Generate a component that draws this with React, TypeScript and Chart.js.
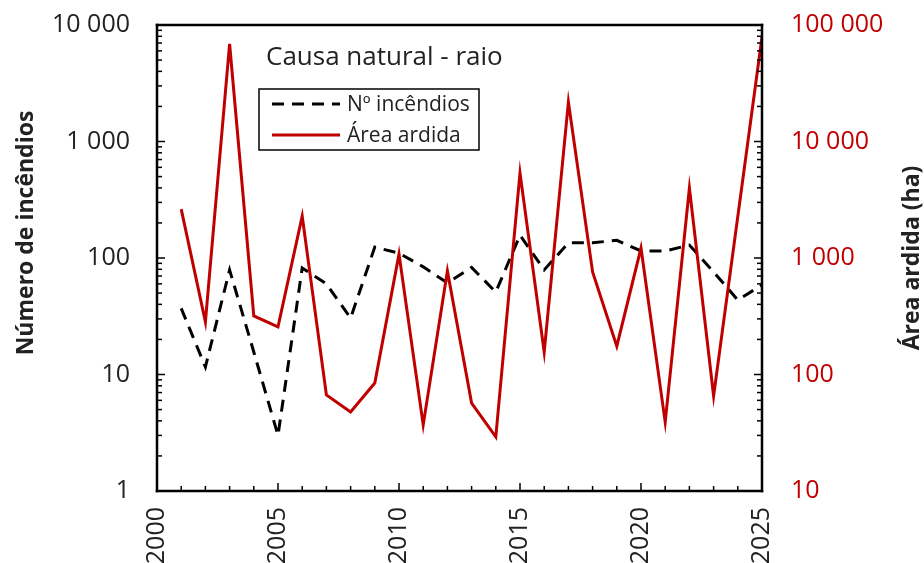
import React, { useEffect, useRef } from "react";
import { Chart, registerables } from "chart.js";

Chart.register(...registerables);

const years = [2001, 2002, 2003, 2004, 2005, 2006, 2007, 2008, 2009, 2010, 2011, 2012, 2013, 2014, 2015, 2016, 2017, 2018, 2019, 2020, 2021, 2022, 2023, 2024, 2025];
const fireCounts = [37, 11.6, 79, 15.6, 3.0, 82, 60, 30.5, 124, 110, 84, 61, 83, 51, 157, 79, 135, 135, 142, 115, 115, 129, 76, 43.6, 58.7];
const burntArea = [2630, 283, 68700, 318, 256, 2290, 66.7, 47.6, 84.5, 1080, 36.9, 773, 56.9, 29.1, 5370, 156, 21800, 759, 175, 1218, 39, 3990, 65.4, 2270, 78900];
const leftTicks = [1, 10, 100, 1000, 10000];
const rightTicks = [10, 100, 1000, 10000, 100000];
const xRange = [2000, 2025];

const TITLE = "Causa natural - raio";
const LEFT_TITLE = "Número de incêndios";
const RIGHT_TITLE = "Área ardida (ha)";
const LABEL_COUNT = "Nº incêndios";
const LABEL_AREA = "Área ardida";

const RED = "#C00000";
const TEXT = "#222222";
const FONT = "'Open Sans', sans-serif";

const fmt = (v: number) => String(Math.round(v)).replace(/\B(?=(\d{3})+(?!\d))/g, " ");

const axisBorder = { display: true, color: "#000000", width: 2 };

const decorPlugin = {
  id: "decor",
  afterDraw(chart: any) {
    const { ctx, chartArea: ca, scales } = chart;
    const xs = scales.x;
    const yl = scales.y;
    const yr = scales.y1;
    const left = ca.left;
    const right = ca.right;
    const top = ca.top;
    const bottom = ca.bottom;

    ctx.save();
    ctx.globalAlpha = 1;
    ctx.globalCompositeOperation = "source-over";
    ctx.setLineDash([]);
    ctx.fillStyle = "#000000";

    // frame
    const w = 2.5;
    ctx.fillRect(left - w / 2, top - w / 2, right - left + w, w);
    ctx.fillRect(left - w / 2, bottom - w / 2, right - left + w, w);
    ctx.fillRect(left - w / 2, top - w / 2, w, bottom - top + w);
    ctx.fillRect(right - w / 2, top - w / 2, w, bottom - top + w);

    // x ticks (inward)
    for (let yv = xRange[0]; yv <= xRange[1]; yv++) {
      const px = xs.getPixelForValue(yv);
      const len = yv % 5 === 0 ? 8 : 5;
      ctx.fillRect(px - 0.75, bottom - len, 1.5, len);
    }

    // y log ticks (inward)
    const drawLog = (decades: number[], scale: any, edge: number, dir: number) => {
      for (let k = 0; k < decades.length; k++) {
        const d = decades[k];
        const maxM = k === decades.length - 1 ? 1 : 9;
        for (let m = 1; m <= maxM; m++) {
          const py = scale.getPixelForValue(m * d);
          const len = m === 1 ? 8 : 5;
          if (dir > 0) ctx.fillRect(edge, py - 0.75, len, 1.5);
          else ctx.fillRect(edge - len, py - 0.75, len, 1.5);
        }
      }
    };
    drawLog(leftTicks, yl, left, 1);
    drawLog(rightTicks, yr, right, -1);

    // chart title
    ctx.fillStyle = TEXT;
    ctx.font = `26px ${FONT}`;
    ctx.textBaseline = "alphabetic";
    ctx.textAlign = "left";
    ctx.fillText(TITLE, left + 109, top + 40);

    // legend
    const lx = left + 102;
    const ly = top + 64;
    ctx.lineWidth = 1.5;
    ctx.strokeStyle = "#000";
    ctx.strokeRect(lx, ly, 220, 61);
    const ds = chart.data.datasets;
    const rows = [
      { y: ly + 15, ds: ds[0] },
      { y: ly + 46, ds: ds[1] },
    ];
    ctx.font = `21px ${FONT}`;
    ctx.textBaseline = "middle";
    rows.forEach((r) => {
      ctx.save();
      ctx.strokeStyle = r.ds.borderColor;
      ctx.lineWidth = r.ds.borderWidth;
      ctx.setLineDash(r.ds.borderDash || []);
      ctx.beginPath();
      ctx.moveTo(lx + 13, r.y);
      ctx.lineTo(lx + 81, r.y);
      ctx.stroke();
      ctx.restore();
      ctx.fillStyle = TEXT;
      ctx.fillText(r.ds.label, lx + 88, r.y + 1);
    });

    // axis titles
    ctx.font = `bold 23px ${FONT}`;
    ctx.fillStyle = TEXT;
    ctx.textAlign = "center";
    ctx.textBaseline = "alphabetic";
    ctx.save();
    ctx.translate(33, (top + bottom) / 2 - 25);
    ctx.rotate(-Math.PI / 2);
    ctx.fillText(LEFT_TITLE, 0, 0);
    ctx.restore();
    ctx.save();
    ctx.translate(919, (top + bottom) / 2);
    ctx.rotate(-Math.PI / 2);
    ctx.fillText(RIGHT_TITLE, 0, 0);
    ctx.restore();

    ctx.restore();
  },
};

export default function App() {
  const ref = useRef<HTMLCanvasElement | null>(null);

  useEffect(() => {
    if (!ref.current) return;
    Chart.defaults.font.family = FONT;
    const chart = new Chart(ref.current, {
      type: "line",
      data: {
        datasets: [
          {
            label: LABEL_COUNT,
            data: years.map((x, i) => ({ x, y: fireCounts[i] })),
            yAxisID: "y",
            borderColor: "#000000",
            backgroundColor: "#000000",
            borderWidth: 3,
            borderDash: [12, 8],
            pointRadius: 0,
            tension: 0,
            order: 2,
          },
          {
            label: LABEL_AREA,
            data: years.map((x, i) => ({ x, y: burntArea[i] })),
            yAxisID: "y1",
            borderColor: RED,
            backgroundColor: RED,
            borderWidth: 3,
            pointRadius: 0,
            tension: 0,
            order: 1,
          },
        ],
      },
      options: {
        animation: false,
        responsive: false,
        maintainAspectRatio: false,
        layout: { padding: { top: 25, left: 0, right: 0, bottom: 0 } },
        plugins: {
          legend: { display: false },
          title: { display: false },
          tooltip: { enabled: false },
        },
        scales: {
          x: {
            type: "linear",
            min: xRange[0],
            max: xRange[1],
            grid: { display: false, drawTicks: false },
            border: axisBorder,
            ticks: {
              stepSize: 5,
              minRotation: 90,
              maxRotation: 90,
              padding: 16,
              color: TEXT,
              font: { size: 25 },
              autoSkip: false,
              callback: (v: any) => String(v),
            },
            afterFit: (s: any) => {
              s.height = 72;
              s.paddingLeft = 0;
              s.paddingRight = 0;
            },
          },
          xTop: {
            type: "linear",
            position: "top",
            min: xRange[0],
            max: xRange[1],
            grid: { display: false, drawTicks: false },
            border: axisBorder,
            ticks: { display: false },
            afterFit: (s: any) => {
              s.height = 0;
              s.paddingLeft = 0;
              s.paddingRight = 0;
            },
          },
          y: {
            type: "logarithmic",
            position: "left",
            min: leftTicks[0],
            max: leftTicks[leftTicks.length - 1],
            grid: { display: false, drawTicks: false },
            border: axisBorder,
            afterBuildTicks: (s: any) => {
              s.ticks = leftTicks.map((v) => ({ value: v }));
            },
            ticks: {
              padding: 27,
              color: TEXT,
              font: { size: 25 },
              autoSkip: false,
              callback: (v: any) => fmt(Number(v)),
            },
            afterFit: (s: any) => {
              s.width = 157;
              s.paddingTop = 0;
              s.paddingBottom = 0;
            },
          },
          y1: {
            type: "logarithmic",
            position: "right",
            min: rightTicks[0],
            max: rightTicks[rightTicks.length - 1],
            grid: { display: false, drawTicks: false },
            border: axisBorder,
            afterBuildTicks: (s: any) => {
              s.ticks = rightTicks.map((v) => ({ value: v }));
            },
            ticks: {
              padding: 29,
              color: RED,
              font: { size: 25 },
              autoSkip: false,
              callback: (v: any) => fmt(Number(v)),
            },
            afterFit: (s: any) => {
              s.width = 162;
              s.paddingTop = 0;
              s.paddingBottom = 0;
            },
          },
        },
      } as any,
      plugins: [decorPlugin],
    });
    return () => chart.destroy();
  }, []);

  return (
    <div style={{ position: "absolute", left: 0, top: 0, width: 924, height: 563, background: "#fff" }}>
      <canvas ref={ref} width={924} height={563} style={{ display: "block" }} />
    </div>
  );
}
